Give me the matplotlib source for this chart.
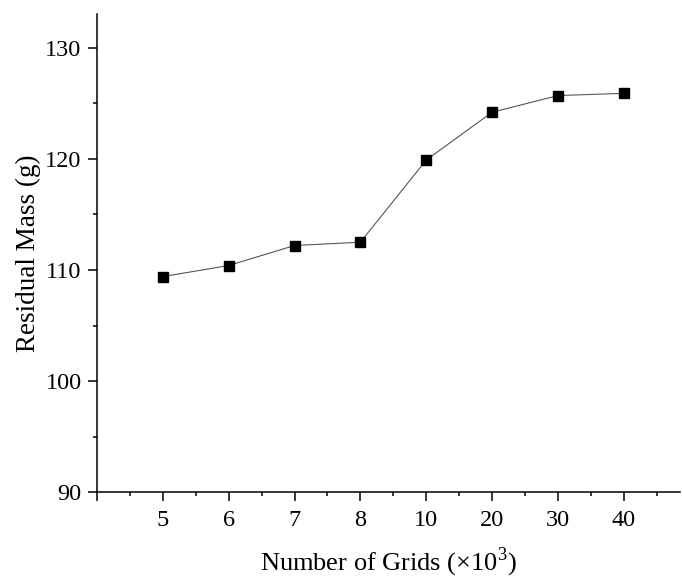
import matplotlib
matplotlib.use("Agg")
import matplotlib.pyplot as plt
from matplotlib.ticker import FixedLocator, MultipleLocator

categories = ["5", "6", "7", "8", "10", "20", "30", "40"]
residual_mass = [109.4, 110.4, 112.2, 112.5, 119.9, 124.2, 125.7, 125.9]

plt.rcParams['font.family'] = ['Liberation Serif', 'DejaVu Serif']
plt.rcParams['mathtext.fontset'] = 'custom'
plt.rcParams['mathtext.rm'] = 'Liberation Serif'

fig = plt.figure(figsize=(6.82, 5.79), dpi=100)
ax = fig.add_axes([0.142, 0.150, 0.855, 0.826])

x = list(range(len(categories)))
ax.plot(x, residual_mass, color='#555555', lw=0.8, marker='s', ms=7.2,
        mfc='black', mec='black', zorder=3)

ax.set_xlim(-1, 7.85)
ax.set_ylim(90, 133.05)

ax.xaxis.set_major_locator(FixedLocator(list(range(-1, len(categories)))))
ax.set_xticklabels([""] + categories)
ax.xaxis.set_minor_locator(FixedLocator([i + 0.5 for i in range(-1, len(categories))]))
ax.yaxis.set_major_locator(MultipleLocator(10))
ax.yaxis.set_minor_locator(MultipleLocator(5))

for s in ['top', 'right']:
    ax.spines[s].set_visible(False)
for s in ['left', 'bottom']:
    ax.spines[s].set_linewidth(1.1)

ax.tick_params(which='major', direction='out', length=6.5, width=1.1, labelsize=17.5)
ax.tick_params(axis='x', which='major', pad=6)
ax.tick_params(axis='y', which='major', pad=4.5)
ax.tick_params(which='minor', direction='out', length=3, width=1.1)

ax.set_xlabel("Number of Grids (×10$^3$)", fontsize=19, labelpad=11)
ax.set_ylabel("Residual Mass (g)", fontsize=19.5, labelpad=3)

fig.savefig("out.png", dpi=100)
